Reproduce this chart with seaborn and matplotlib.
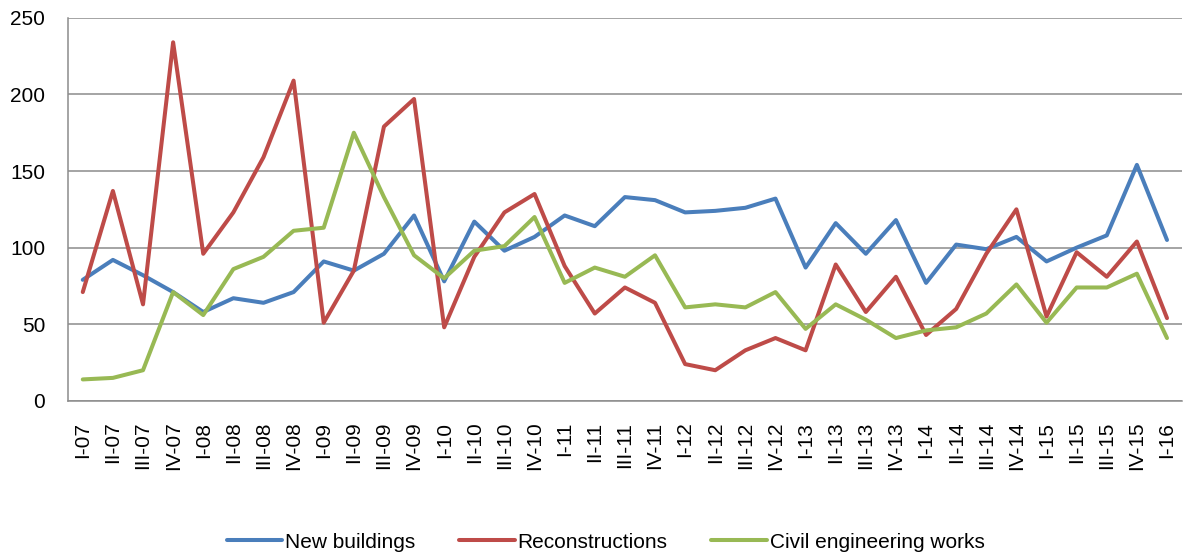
import numpy as np
import pandas as pd
import matplotlib
matplotlib.use("Agg")
import matplotlib.pyplot as plt
import seaborn as sns

# quarter labels
quarters = ["I-07", "II-07", "III-07", "IV-07",
            "I-08", "II-08", "III-08", "IV-08",
            "I-09", "II-09", "III-09", "IV-09",
            "I-10", "II-10", "III-10", "IV-10",
            "I-11", "II-11", "III-11", "IV-11",
            "I-12", "II-12", "III-12", "IV-12",
            "I-13", "II-13", "III-13", "IV-13",
            "I-14", "II-14", "III-14", "IV-14",
            "I-15", "II-15", "III-15", "IV-15",
            "I-16"]

new_buildings = [79, 92, 82, 71, 58, 67, 64, 71, 91, 85, 96, 121,
                 78, 117, 98, 107, 121, 114, 133, 131, 123, 124, 126, 132,
                 87, 116, 96, 118, 77, 102, 99, 107, 91, 100, 108, 154, 105]
reconstructions = [71, 137, 63, 234, 96, 123, 159, 209, 51, 85, 179, 197,
                   48, 94, 123, 135, 88, 57, 74, 64, 24, 20, 33, 41,
                   33, 89, 58, 81, 43, 60, 96, 125, 55, 97, 81, 104, 54]
civil_works = [14, 15, 20, 71, 56, 86, 94, 111, 113, 175, 133, 95,
               80, 98, 101, 120, 77, 87, 81, 95, 61, 63, 61, 71,
               47, 63, 53, 41, 46, 48, 57, 76, 51, 74, 74, 83, 41]

series_names = ["New buildings", "Reconstructions", "Civil engineering works"]
colors = ["#4A7EBB", "#BE4B48", "#98B954"]

df = pd.DataFrame({
    "pos": list(range(len(quarters))) * 3,
    "value": new_buildings + reconstructions + civil_works,
    "series": np.repeat(series_names, len(quarters)),
})

sns.set_style("white")
plt.rcParams["font.family"] = ["Liberation Sans", "DejaVu Sans"]
plt.rcParams["text.color"] = "black"
plt.rcParams["xtick.labelcolor"] = "black"
plt.rcParams["ytick.labelcolor"] = "black"

fig = plt.figure(figsize=(11.88, 5.56), dpi=100)
ax = fig.add_axes([0.057, 0.279, 0.938, 0.689])

sns.lineplot(data=df, x="pos", y="value", hue="series", palette=colors,
             hue_order=series_names, linewidth=2.9, ax=ax, legend=False)

grid_col = "#8C8C8C"
ax.set_ylim(0, 250)
ax.set_yticks(range(0, 251, 50))
ax.yaxis.grid(True, color=grid_col, linewidth=1.1)
ax.set_axisbelow(True)
ax.set_xlim(-0.5, len(quarters) - 0.5)
ax.set_xticks(range(len(quarters)))
ax.set_xticklabels(quarters, rotation=90)
ax.set_xticks(np.arange(-0.5, len(quarters), 1), minor=True)
ax.tick_params(axis="x", which="major", length=0, labelsize=15, pad=15)
ax.tick_params(axis="x", which="minor", length=4.5, width=1, color=grid_col,
               direction="out")
ax.tick_params(axis="y", length=4.3, width=1, color=grid_col, direction="out",
               labelsize=15, pad=12)
ax.set_xlabel("")
ax.set_ylabel("")

for side in ["top", "right"]:
    ax.spines[side].set_visible(False)
for side in ["left", "bottom"]:
    ax.spines[side].set_color(grid_col)
    ax.spines[side].set_linewidth(1.1)

handles = [plt.Line2D([], [], color=c, linewidth=2.9) for c in colors]
fig.legend(handles, series_names, loc="center", bbox_to_anchor=(0.51, 0.025),
           ncol=3, frameon=False, fontsize=15, handlelength=2.65,
           columnspacing=2.1, handletextpad=0.15)

fig.savefig("out.png", dpi=100)
